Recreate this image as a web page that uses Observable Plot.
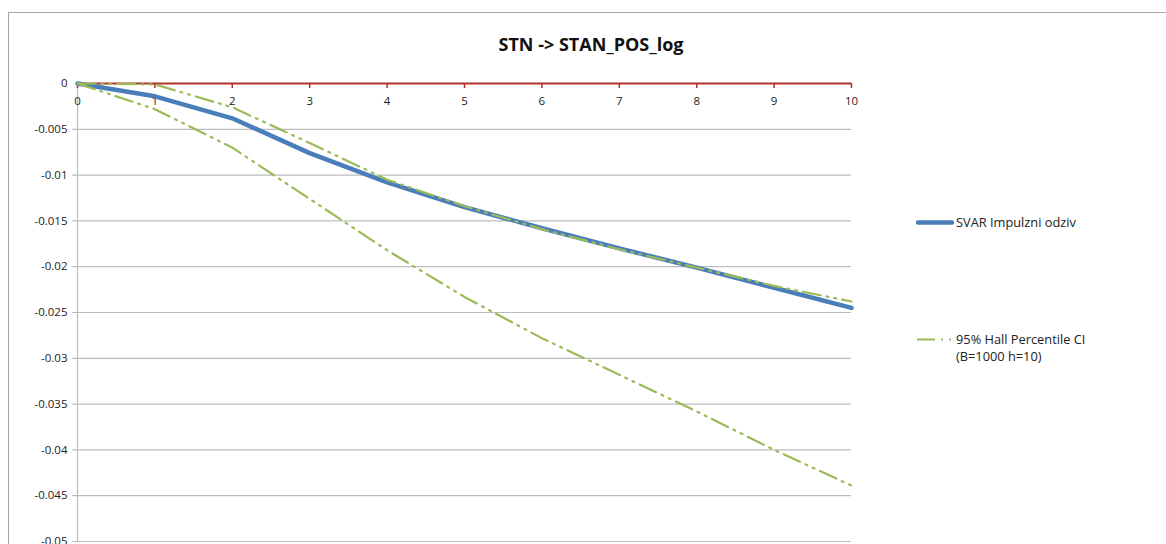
<!DOCTYPE html>
<html>
<head>
<meta charset="utf-8">
<script src="https://cdn.jsdelivr.net/npm/d3@7"></script>
<script src="https://cdn.jsdelivr.net/npm/@observablehq/plot@0.6"></script>
<style>
  html, body { margin: 0; padding: 0; background: #fff; }
  #wrap { position: relative; width: 1166px; height: 544px; overflow: hidden; font-family: "Open Sans", sans-serif; }
  #frame { position: absolute; left: 8px; top: 12px; width: 1300px; height: 700px; border: 1px solid #a6a6a6; box-sizing: border-box; }
  #chart { position: absolute; left: 0; top: 0; }
  #title { position: absolute; left: 8px; width: 1166px; top: 32px; text-align: center; font-weight: 700; font-size: 18px; color: #111; }
  .leg { position: absolute; left: 916px; font-size: 12.8px; color: #222; line-height: 17px; display: flex; align-items: flex-start; }
  .leg svg { flex: none; margin-right: 2px; }
</style>
</head>
<body>
<div id="wrap">
  <div id="frame"></div>
  <div id="chart"></div>
  <div id="title"></div>
  <div id="legend"></div>
</div>
<script>
const chartTitle = "STN -> STAN_POS_log";
const horizons = [0, 1, 2, 3, 4, 5, 6, 7, 8, 9, 10];
const svarIrf  = [0, -0.0014, -0.0038, -0.0076, -0.0108, -0.0135, -0.0158, -0.0180, -0.0201, -0.0223, -0.0245];
const ciUpper  = [0, -0.0001, -0.0026, -0.0065, -0.0105, -0.0134, -0.0159, -0.0181, -0.0201, -0.0221, -0.0238];
const ciLower  = [0, -0.0028, -0.0070, -0.0126, -0.0182, -0.0233, -0.0278, -0.0318, -0.0358, -0.0400, -0.0439];
const xTicks = [0, 1, 2, 3, 4, 5, 6, 7, 8, 9, 10];
const yTicks = [0, -0.005, -0.01, -0.015, -0.02, -0.025, -0.03, -0.035, -0.04, -0.045, -0.05];
const seriesNames = ["SVAR Impulzni odziv", "95% Hall Percentile CI", "(B=1000 h=10)"];

const blue = "#4a7ebb";
const green = "#9bbb59";
const red = "#b0302c";
const grid = "#bdbdbd";
const dash = "18,6,2,6,2,6";

const svarData = horizons.map((h, i) => ({h, v: svarIrf[i]}));
const upData = horizons.map((h, i) => ({h, v: ciUpper[i]}));
const loData = horizons.map((h, i) => ({h, v: ciLower[i]}));

const plot = Plot.plot({
  width: 1166,
  height: 544,
  marginLeft: 77,
  marginRight: 315,
  marginTop: 83,
  marginBottom: 3,
  style: {background: "transparent", fontFamily: "'Open Sans', sans-serif"},
  x: {domain: [0, 10], axis: null},
  y: {domain: [-0.05, 0], axis: null},
  marks: [
    Plot.ruleY(yTicks.filter(d => d !== 0), {stroke: grid, strokeWidth: 1.2, insetLeft: -5}),
    Plot.ruleX([0], {y1: -0.05, y2: 0, stroke: grid, strokeWidth: 1.2}),
    Plot.text(yTicks, {x: 0, y: d => d, text: d => String(d), textAnchor: "end", dx: -10, fontSize: 11.5, fill: "#222"}),
    Plot.ruleY([0], {stroke: red, strokeWidth: 2}),
    Plot.ruleX(xTicks, {y1: 0, y2: 0, insetBottom: -5, stroke: red, strokeWidth: 1.5}),
    Plot.text(xTicks, {x: d => d, y: 0, text: d => String(d), dy: 18, fontSize: 11.5, fill: "#222"}),
    Plot.line(svarData, {x: "h", y: "v", stroke: blue, strokeWidth: 4.5, strokeLinejoin: "round"}),
    Plot.line(upData, {x: "h", y: "v", stroke: green, strokeWidth: 2.2, strokeDasharray: dash}),
    Plot.line(loData, {x: "h", y: "v", stroke: green, strokeWidth: 2.2, strokeDasharray: dash})
  ]
});
document.getElementById("chart").appendChild(plot);
document.getElementById("title").textContent = chartTitle;

const legend = document.getElementById("legend");
legend.innerHTML = `
  <div class="leg" style="top:214px">
    <svg width="38" height="17"><line x1="2" x2="36" y1="8.5" y2="8.5" stroke="${blue}" stroke-width="4.5" stroke-linecap="round"/></svg>
    <span>${seriesNames[0]}</span>
  </div>
  <div class="leg" style="top:331px">
    <svg width="38" height="17"><line x1="1" x2="36" y1="8.5" y2="8.5" stroke="${green}" stroke-width="2.2" stroke-dasharray="${dash}"/></svg>
    <span>${seriesNames[1]}<br>${seriesNames[2]}</span>
  </div>`;
</script>
</body>
</html>
